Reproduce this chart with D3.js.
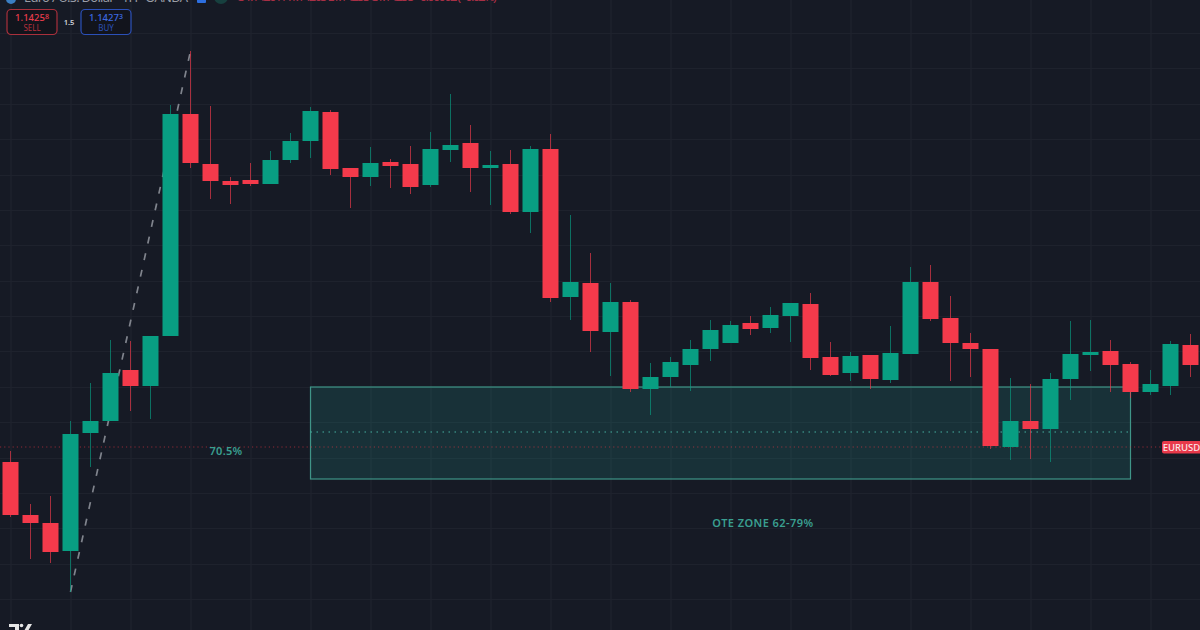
<!DOCTYPE html>
<html>
<head>
<meta charset="utf-8">
<script src="https://cdnjs.cloudflare.com/ajax/libs/d3/7.8.5/d3.min.js"></script>
<style>
	html, body { margin: 0; padding: 0; background: #161a25; overflow: hidden; }
	svg { display: block; }
	text { font-family: "Noto Sans", sans-serif; }
</style>
</head>
<body>
<script>
// EURUSD candles left to right
var opens = [1.14243,1.14190,1.14182,1.14154,1.14272,1.14284,1.14335,1.14319,1.14369,1.14591,
	1.14541,1.14524,1.14525,1.14521,1.14545,1.14564,1.14593,1.14537,1.14528,1.14543,
	1.14541,1.14520,1.14555,1.14562,1.14537,1.14541,1.14493,1.14556,1.14408,1.14422,
	1.14373,1.14403,1.14316,1.14328,1.14340,1.14356,1.14362,1.14382,1.14377,1.14389,
	1.14401,1.14348,1.14332,1.14350,1.14325,1.14351,1.14423,1.14387,1.14362,1.14356,
	1.14258,1.14284,1.14276,1.14326,1.14350,1.14354,1.14341,1.14313,1.14319,1.14360]
var highs = [1.14254,1.14201,1.14209,1.14284,1.14322,1.14365,1.14364,1.14369,1.14600,1.14654,
	1.14599,1.14528,1.14542,1.14554,1.14572,1.14598,1.14595,1.14537,1.14558,1.14546,
	1.14559,1.14573,1.14611,1.14580,1.14554,1.14555,1.14559,1.14571,1.14490,1.14452,
	1.14422,1.14405,1.14342,1.14348,1.14365,1.14385,1.14384,1.14389,1.14398,1.14402,
	1.14412,1.14363,1.14353,1.14350,1.14379,1.14438,1.14440,1.14409,1.14372,1.14356,
	1.14327,1.14321,1.14332,1.14384,1.14385,1.14365,1.14343,1.14335,1.14364,1.14371]
var lows = [1.14188,1.14146,1.14142,1.14113,1.14238,1.14284,1.14294,1.14286,1.14369,1.14537,
	1.14506,1.14501,1.14519,1.14521,1.14542,1.14547,1.14530,1.14497,1.14519,1.14517,
	1.14511,1.14518,1.14543,1.14513,1.14500,1.14491,1.14472,1.14403,1.14385,1.14353,
	1.14329,1.14313,1.14290,1.14318,1.14314,1.14344,1.14362,1.14370,1.14372,1.14363,
	1.14335,1.14329,1.14324,1.14316,1.14322,1.14351,1.14384,1.14324,1.14328,1.14256,
	1.14245,1.14246,1.14243,1.14305,1.14334,1.14313,1.14307,1.14310,1.14310,1.14328]
var closes = [1.14190,1.14182,1.14153,1.14271,1.14284,1.14332,1.14319,1.14369,1.14591,1.14542,
	1.14524,1.14520,1.14521,1.14545,1.14564,1.14594,1.14536,1.14528,1.14542,1.14539,
	1.14518,1.14556,1.14560,1.14537,1.14540,1.14493,1.14556,1.14407,1.14423,1.14374,
	1.14403,1.14316,1.14328,1.14343,1.14356,1.14375,1.14380,1.14376,1.14390,1.14402,
	1.14347,1.14330,1.14349,1.14326,1.14352,1.14423,1.14386,1.14362,1.14356,1.14259,
	1.14284,1.14276,1.14326,1.14351,1.14353,1.14340,1.14313,1.14321,1.14361,1.14340]

var priceTicks = [1.14672,1.14637,1.14601,1.14566,1.14530,1.14495,1.14460,1.14424,1.14389,
	1.14354,1.14318,1.14283,1.14247,1.14212,1.14177,1.14141,1.14106]
var timeTicks = [0,3,6,9,12,15,18,21,24,27,30,33,36,39,42,45,48,51,54,57]

var zoneStart = 15, zoneEnd = 56
var zoneTop = 1.14318, zoneMid = 1.14273, zoneBottom = 1.14226
var lastPrice = 1.14258

var green = '#089e82', red = '#f43a4b', teal = '#3a9f90'
var width = 1200, height = 630

var x = d3.scaleLinear().domain([0, 59]).range([10.5, 1190.5])
	, y = d3.scaleLinear().domain([1.14705, 1.14075]).range([0, 630])

var svg = d3.select('body').append('svg')
	.attr('width', width)
	.attr('height', height)

svg.append('rect').attr('width', width).attr('height', height).attr('fill', '#161a25')

// grid
var gridV = svg.append('g')
	.call(d3.axisBottom(x).tickValues(timeTicks).tickSize(height).tickFormat(''))
var gridH = svg.append('g')
	.call(d3.axisRight(y).tickValues(priceTicks).tickSize(width).tickFormat(''))
gridV.select('.domain').remove()
gridH.select('.domain').remove()
gridV.selectAll('line').attr('stroke', '#212530')
gridH.selectAll('line').attr('stroke', '#1e222d')

// OTE zone, behind the candles
svg.append('rect')
	.attr('x', x(zoneStart))
	.attr('y', y(zoneTop))
	.attr('width', x(zoneEnd) - x(zoneStart))
	.attr('height', y(zoneBottom) - y(zoneTop))
	.attr('fill', 'rgba(38,166,154,0.17)')
	.attr('stroke', '#3f9588')
	.attr('stroke-width', 1.2)

svg.append('line')
	.attr('x1', x(zoneStart))
	.attr('x2', x(zoneEnd) - 2)
	.attr('y1', y(zoneMid))
	.attr('y2', y(zoneMid))
	.attr('stroke', '#45b0a0')
	.attr('stroke-dasharray', '1.5 4.5')

// swing line, low of candle 3 to high of candle 9
svg.append('line')
	.attr('x1', x(3))
	.attr('y1', y(lows[3]))
	.attr('x2', x(9))
	.attr('y2', y(highs[9]))
	.attr('stroke', '#80848d')
	.attr('stroke-width', 1.7)
	.attr('stroke-dasharray', '7 10')

// last price line
svg.append('line')
	.attr('x1', 0)
	.attr('x2', 1162)
	.attr('y1', y(lastPrice))
	.attr('y2', y(lastPrice))
	.attr('stroke', 'rgba(242,54,69,0.55)')
	.attr('stroke-dasharray', '1.2 3')

// candles
var candles = svg.append('g').selectAll('g')
	.data(opens)
	.enter().append('g')
	.attr('fill', function (d, i) { return closes[i] >= d ? green : red; })
	.attr('stroke', function (d, i) { return closes[i] >= d ? green : red; })

candles.append('line')
	.attr('x1', function (d, i) { return x(i); })
	.attr('x2', function (d, i) { return x(i); })
	.attr('y1', function (d, i) { return y(highs[i]); })
	.attr('y2', function (d, i) { return y(lows[i]); })
	.attr('stroke-width', 1)
	.attr('stroke-opacity', 0.65)

candles.append('rect')
	.attr('x', function (d, i) { return x(i) - 8; })
	.attr('width', 16)
	.attr('y', function (d, i) { return y(Math.max(d, closes[i])); })
	.attr('height', function (d, i) { return Math.abs(y(d) - y(closes[i])); })
	.attr('stroke', 'none')

// zone labels
svg.append('text')
	.attr('x', 226)
	.attr('y', 455)
	.attr('text-anchor', 'middle')
	.attr('fill', teal)
	.attr('font-size', 11)
	.attr('font-weight', 600)
	.attr('letter-spacing', 0.3)
	.text('70.5%')

svg.append('text')
	.attr('x', 763)
	.attr('y', 527)
	.attr('text-anchor', 'middle')
	.attr('fill', teal)
	.attr('font-size', 11)
	.attr('font-weight', 600)
	.attr('letter-spacing', 0.45)
	.text('OTE ZONE 62-79%')

// last price tag
svg.append('rect')
	.attr('x', 1162)
	.attr('y', 441)
	.attr('width', 40)
	.attr('height', 12.5)
	.attr('rx', 2)
	.attr('fill', '#e8394a')

svg.append('text')
	.attr('x', 1181.5)
	.attr('y', 451)
	.attr('text-anchor', 'middle')
	.attr('fill', '#fbe6e8')
	.attr('font-size', 9.5)
	.attr('font-weight', 500)
	.text('EURUSD')

// cropped header
svg.append('circle').attr('cx', 11).attr('cy', -1).attr('r', 5).attr('fill', '#3a7fc4')
svg.append('text')
	.attr('x', 24)
	.attr('y', 2)
	.attr('fill', '#9a9da6')
	.attr('font-size', 13)
	.attr('textLength', 164)
	.text('Euro / U.S. Dollar · 1H · OANDA')
svg.append('rect').attr('x', 197).attr('y', -6).attr('width', 9).attr('height', 9).attr('rx', 1).attr('fill', '#2d6fe0')
svg.append('circle').attr('cx', 221).attr('cy', -3).attr('r', 7).attr('fill', '#17403f')
svg.append('text')
	.attr('x', 236)
	.attr('y', 1)
	.attr('fill', '#a82f45')
	.attr('font-size', 13)
	.attr('textLength', 261)
	.text('O1.14261 H1.14265 L1.14255 C1.14258 −0.00002 (−0.02%)')

// sell and buy buttons
var buttons = svg.append('g').selectAll('g')
	.data([
		{ x: 7, color: '#a9303c', text: '#e93c4c', label: '#b5303d', price: '1.1425', pip: '8', name: 'SELL' },
		{ x: 81, color: '#2b50b8', text: '#3b68e0', label: '#2b50b8', price: '1.1427', pip: '3', name: 'BUY' }
	])
	.enter().append('g')

buttons.append('rect')
	.attr('x', function (d) { return d.x; })
	.attr('y', 9.5)
	.attr('width', 50)
	.attr('height', 25)
	.attr('rx', 4)
	.attr('fill', '#12141c')
	.attr('stroke', function (d) { return d.color; })
	.attr('stroke-width', 1.2)

var priceText = buttons.append('text')
	.attr('x', function (d) { return d.x + 25; })
	.attr('y', 20.5)
	.attr('text-anchor', 'middle')
	.attr('font-size', 9.5)
	.attr('font-weight', 500)
	.attr('fill', function (d) { return d.text; })
priceText.append('tspan').text(function (d) { return d.price; })
priceText.append('tspan')
	.attr('font-size', 7)
	.attr('dy', -1.5)
	.text(function (d) { return d.pip; })

buttons.append('text')
	.attr('x', function (d) { return d.x + 25; })
	.attr('y', 30.5)
	.attr('text-anchor', 'middle')
	.attr('font-size', 8)
	.attr('fill', function (d) { return d.label; })
	.text(function (d) { return d.name; })

svg.append('text')
	.attr('x', 69)
	.attr('y', 25)
	.attr('text-anchor', 'middle')
	.attr('fill', '#d1d4dc')
	.attr('font-size', 7.5)
	.attr('font-weight', 600)
	.text('1.5')

// cropped logo
svg.append('path')
	.attr('fill', '#e6e6e6')
	.attr('d', 'M9 624H19V631H15V627H9ZM24 631L28 624H32L28 631Z')
svg.append('circle').attr('cx', 21.5).attr('cy', 625.5).attr('r', 1.8).attr('fill', '#e6e6e6')
</script>
</body>
</html>
